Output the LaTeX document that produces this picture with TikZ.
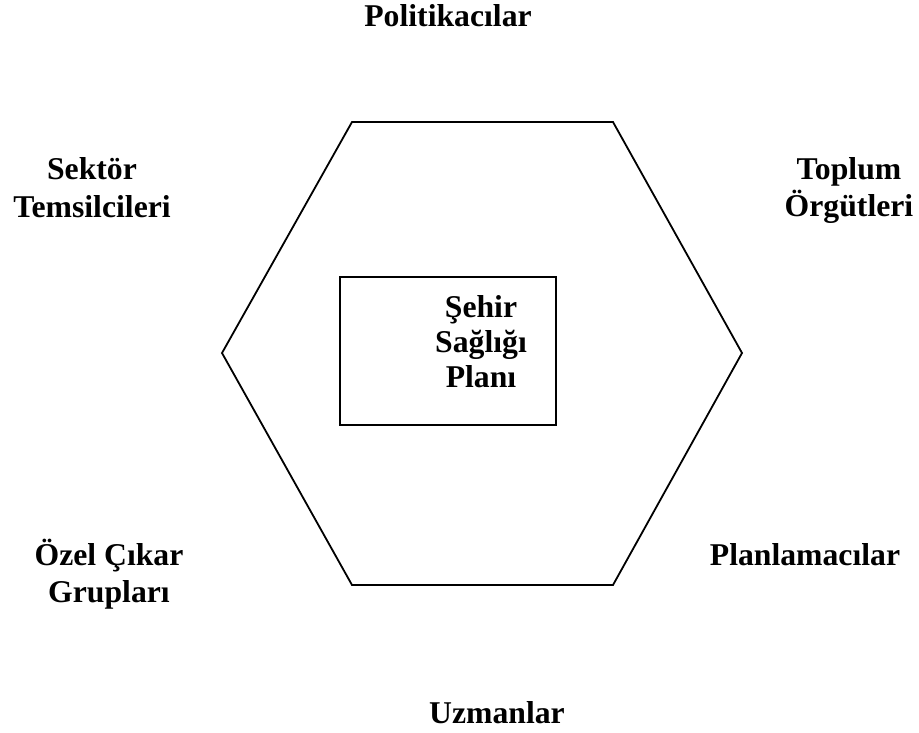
\documentclass[tikz,border=0pt]{standalone}
\usepackage{fontspec}
\setmainfont{Liberation Serif}
\begin{document}
\begin{tikzpicture}[x=1pt,y=-1pt,
  lbl/.style={font=\fontsize{31.7}{37}\selectfont\bfseries, inner sep=0pt, anchor=base},
  outline/.style={draw=black, line width=1.8pt, line join=miter}]
\useasboundingbox (0,0) rectangle (919,733);
% hexagon
\coordinate (h1) at (352,122);
\coordinate (h2) at (613,122);
\coordinate (h3) at (742,353);
\coordinate (h4) at (613,585);
\coordinate (h5) at (352,585);
\coordinate (h6) at (222,353);
\draw[outline] (h1) -- (h2) -- (h3) -- (h4) -- (h5) -- (h6) -- cycle;
% central box
\coordinate (b1) at (340,277);
\coordinate (b2) at (556,425);
\draw[outline, line width=2.2pt] (b1) rectangle (b2);
\node[lbl] (c1) at (481,317) {Şehir};
\node[lbl] (c2) at (481,352) {Sağlığı};
\node[lbl] (c3) at (481,387) {Planı};
% surrounding labels
\node[lbl] (pol) at (448,27) {Politikacılar};
\node[lbl] (sek1) at (92,180) {Sektör};
\node[lbl] (sek2) at (92,218) {Temsilcileri};
\node[lbl] (top1) at (849,180) {Toplum};
\node[lbl] (top2) at (849,216) {Örgütleri};
\node[lbl] (oze1) at (109,565) {Özel Çıkar};
\node[lbl] (oze2) at (109,602) {Grupları};
\node[lbl] (pla) at (805,565) {Planlamacılar};
\node[lbl] (uzm) at (497,723) {Uzmanlar};
\end{tikzpicture}
\end{document}
